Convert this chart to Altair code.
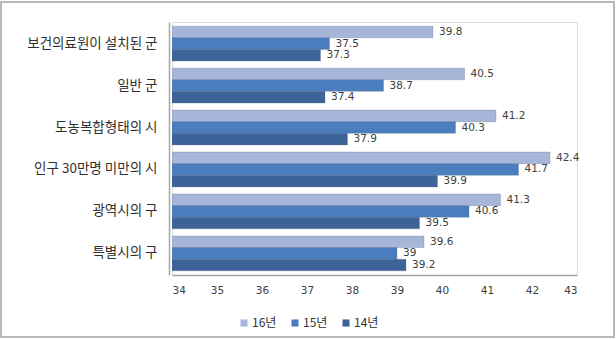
import altair as alt
import pandas as pd

categories = ["보건의료원이 설치된 군", "일반 군", "도농복합형태의 시",
              "인구 30만명 미만의 시", "광역시의 구", "특별시의 구"]
series = ["16년", "15년", "14년"]
v16 = [39.8, 40.5, 41.2, 42.4, 41.3, 39.6]
v15 = [37.5, 38.7, 40.3, 41.7, 40.6, 39]
v14 = [37.3, 37.4, 37.9, 39.9, 39.5, 39.2]
x_ticks = [34, 35, 36, 37, 38, 39, 40, 41, 42, 43]
colors = ["#A7B6D8", "#4A7EBF", "#3D6399"]

rows = []
for s, vals in zip(series, [v16, v15, v14]):
    for c, v in zip(categories, vals):
        rows.append({"category": c, "series": s, "value": v,
                     "label": f"{v:g}"})
df = pd.DataFrame(rows)

x_enc = alt.X("value:Q",
              scale=alt.Scale(domain=[34, 43], nice=False, zero=False),
              axis=alt.Axis(values=x_ticks, title=None, grid=False, ticks=False,
                            domainColor="#A6A6A6", domainWidth=1.5,
                            labelFont="DejaVu Sans", labelFontSize=10.5,
                            labelColor="#404040", labelPadding=10, format="d"))
y_enc = alt.Y("category:N", sort=categories,
              scale=alt.Scale(paddingInner=0.17, paddingOuter=0.1),
              axis=alt.Axis(title=None, ticks=False, domain=True, offset=3,
                            domainColor="#A6A6A6", domainWidth=1.5,
                            labelFont="Noto Sans CJK KR", labelFontSize=13.5,
                            labelColor="#303030", labelPadding=12, labelLimit=170))
yoff = alt.YOffset("series:N", sort=series)

bars = alt.Chart(df).mark_bar(clip=True, stroke="#5A6E8C", strokeWidth=0.3).encode(
    x=x_enc,
    x2=alt.datum(34),
    y=y_enc,
    yOffset=yoff,
    color=alt.Color("series:N", sort=series,
                    scale=alt.Scale(domain=series, range=colors),
                    legend=alt.Legend(title=None, orient="none", direction="horizontal",
                                      legendX=66, legendY=295,
                                      symbolType="square", symbolSize=50,
                                      symbolStrokeWidth=0,
                                      labelFont="Noto Sans CJK KR", labelFontSize=12,
                                      labelColor="#303030", columnPadding=12,
                                      labelOffset=2)),
)

texts = alt.Chart(df).mark_text(align="left", baseline="middle", dx=6,
                                font="DejaVu Sans", fontSize=10.5,
                                color="#404040").encode(
    x="value:Q",
    y=alt.Y("category:N", sort=categories),
    yOffset=yoff,
    text="label:N",
)

frame = alt.Chart(pd.DataFrame({"k": [0]})).mark_rect(
    fill=None, stroke="#B8B8B8", strokeWidth=2, clip=False).encode(
    x=alt.value(-171), x2=alt.value(442), y=alt.value(-20), y2=alt.value(315))

chart = alt.layer(frame, bars, texts).properties(
    width=405, height=253,
    autosize=alt.AutoSizeParams(type="none"),
    padding={"left": 172, "top": 22, "right": 39, "bottom": 64},
).configure_view(stroke=None).configure(background="white")

chart.save("out.html", embed_options={"renderer": "svg", "actions": False})
